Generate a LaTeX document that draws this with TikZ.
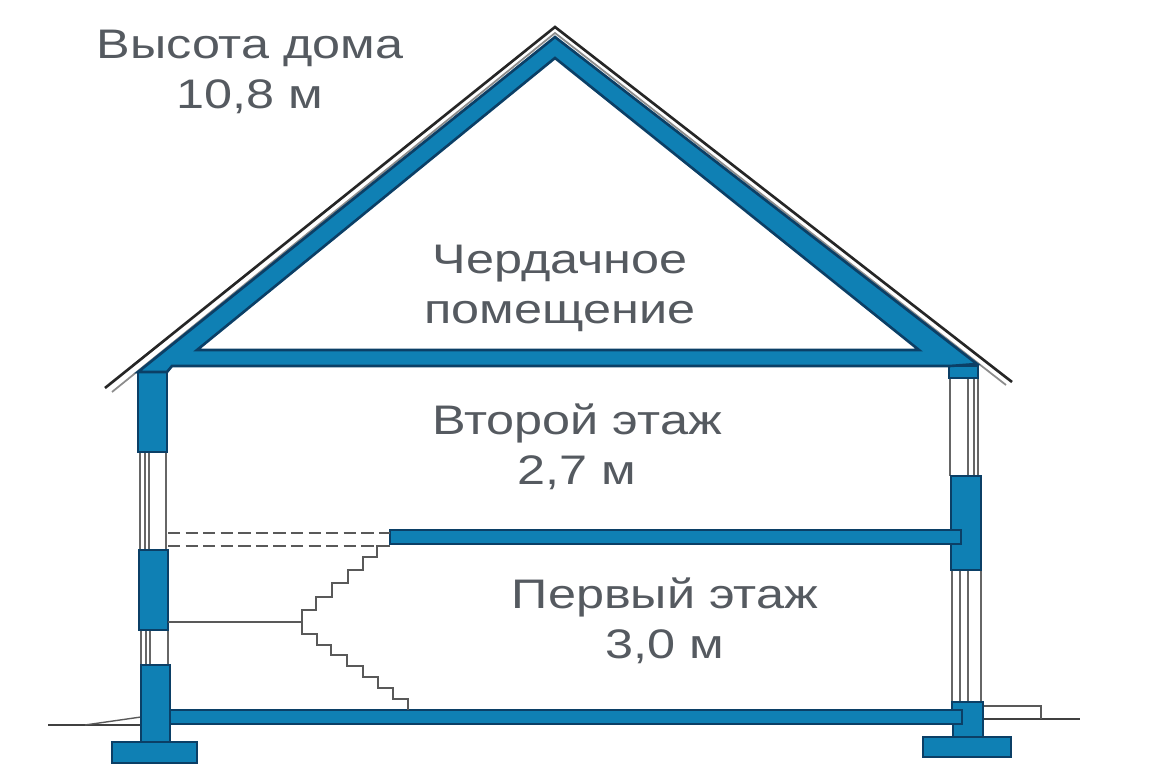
\documentclass[tikz,border=0pt]{standalone}
\usepackage{fontspec}
\setmainfont[FakeStretch=1.22]{Liberation Sans}
\definecolor{wallblue}{HTML}{0F80B4}
\definecolor{walldark}{HTML}{0B3F66}
\definecolor{labelgray}{HTML}{555A60}
\begin{document}
\begin{tikzpicture}[x=0.02cm, y=-0.02cm,
                    wall part/.style={draw=walldark,fill=wallblue,line width=1.5pt,line join=miter},
                    thin line/.style={draw=black!65,line width=0.8pt},
                    glass line/.style={draw=black!60,line width=0.85pt},
                    main label/.style={text=labelgray,align=center,font=\fontsize{23.5}{28.5}\selectfont}]

  \useasboundingbox[fill=white] (0,0) rectangle (1150,780);

  % roof and attic floor
  \draw[thin line,draw=black!85,line width=1.5pt] (105,388) -- (555,27) -- (1012,382);
  \draw[thin line,draw=black!45,line width=1pt] (112,392) -- (555,33) -- (1006,385);

  % window lines
  \foreach \x in {140,145,149,166} \draw[glass line] (\x,452) -- (\x,550);
  \foreach \x in {141,146,150,168} \draw[glass line] (\x,630) -- (\x,665);
  \foreach \x in {950,968,974,978} \draw[glass line] (\x,378) -- (\x,476);
  \foreach \x in {952,960,968,981} \draw[glass line] (\x,570) -- (\x,702);

  % ground
  \draw[thin line,draw=black!75,line width=1.2pt] (48,725) -- (141,725);
  \draw[thin line] (85,725) -- (141,717);
  \draw[thin line,draw=black!75,line width=1.2pt] (983,719) -- (1080,719);
  \draw[thin line] (983,706) -- (1041,706) -- (1041,719);

  % left wall
  \draw[wall part] (138,372) rectangle (167,452);
  \draw[wall part] (139,550) rectangle (168,630);
  \draw[wall part] (141,665) rectangle (170,742);
  \draw[wall part] (112,742) rectangle (197,763);

  % right wall
  \draw[wall part] (949,366) rectangle (978,378);
  \draw[wall part] (951,476) rectangle (981,570);
  \draw[wall part] (952,702) -- (983,702) -- (983,737) -- (953,737) -- (953,724) -- (960,724) -- (960,710) -- (952,710) -- cycle;
  \draw[wall part] (923,737) rectangle (1011,757);

  \draw[wall part,even odd rule] (138,372) -- (555,37) -- (977,364) -- (950,366) -- (172,366) -- (167,372) -- cycle
        (555,58) -- (919,350) -- (197,350) -- cycle;

  % floors
  \draw[wall part] (170,710) rectangle (962,724);
  \draw[wall part] (390,530) rectangle (961,544);
  \draw[thin line,dash pattern=on 7pt off 3pt] (168,533) -- (390,533);
  \draw[thin line,dash pattern=on 7pt off 3pt] (168,546) -- (390,546);

  % stairs
  \draw[thin line] (390,546) -- (377,546) -- (377,557) -- (363,557) -- (363,570) -- (348,570)
        -- (348,583) -- (332,583) -- (332,597) -- (316,597) -- (316,610) -- (302,610) -- (302,622);
  \draw[thin line] (168,622) -- (302,622) -- (302,634) -- (317,634) -- (317,645) -- (331,645)
        -- (331,655) -- (347,655) -- (347,666) -- (363,666) -- (363,677) -- (378,677)
        -- (378,688) -- (393,688) -- (393,699) -- (408,699) -- (408,710);

  % labels
  \node[main label] (height) at (250,72) {Высота дома\\10,8 м};
  \node[main label] (attic) at (560,288) {Чердачное\\помещение};
  \node[main label] (second) at (577,447) {Второй этаж\\2,7 м};
  \node[main label] (first) at (665,621) {Первый этаж\\3,0 м};

\end{tikzpicture}
\end{document}
